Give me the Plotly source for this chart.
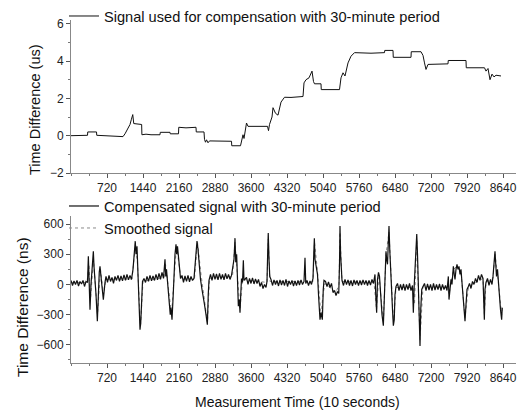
import plotly.graph_objects as go

# ---------------- data ----------------
tick_vals = [720, 1440, 2160, 2880, 3600, 4320, 5040, 5760, 6480, 7200, 7920, 8640]

top_x = [0, 150, 330, 335, 510, 515, 720, 1040, 1080, 1120, 1150, 1180, 1205, 1235, 1255, 1413, 1418,
         1500, 1600, 1780, 1785, 1980, 1985, 2150, 2155, 2300, 2500, 2505, 2660, 2670, 2690, 2710,
         2740, 2770, 3210, 3215, 3390, 3420, 3440, 3460, 3480, 3510, 3540, 3930, 3950, 3970, 4020,
         4040, 4090, 4140, 4200, 4270, 4400, 4640, 4660, 4700, 4760, 4820, 4850, 4870, 5000, 5005,
         5370, 5400, 5440, 5480, 5540, 5600, 5670, 6000, 6270, 6275, 6440, 6445, 6800, 6805, 7000,
         7040, 7070, 7100, 7140, 7540, 7545, 7900, 7905, 8270, 8300, 8340, 8380, 8420, 8460, 8500, 8600]
top_y = [0.0, 0.0, 0.02, 0.2, 0.2, 0.02, -0.02, -0.05, 0.1, 0.3, 0.45, 0.6, 0.85, 1.13, 0.65, 0.6, 0.05,
         0.08, 0.05, 0.05, 0.18, 0.18, 0.1, 0.1, 0.45, 0.42, 0.45, 0.2, 0.2, -0.2, -0.35, -0.22,
         -0.38, -0.28, -0.3, -0.54, -0.54, -0.2, 0.05, -0.15, 0.3, 0.68, 0.5, 0.5, 0.27, 0.6, 1.0,
         1.5, 1.2, 1.1, 1.8, 2.06, 2.05, 2.1, 2.83, 3.0, 3.1, 3.46, 2.9, 2.78, 2.78, 2.47,
         2.47, 3.1, 3.37, 3.2, 3.9, 4.26, 4.45, 4.42, 4.45, 4.57, 4.57, 4.2, 4.2, 4.5, 4.5,
         4.3, 3.9, 3.55, 3.82, 3.85, 4.03, 4.03, 3.64, 3.64, 3.46, 3.6, 3.0, 3.3, 3.15, 3.24, 3.2]

comp_x = [0, 30, 60, 90, 120, 150, 180, 210, 240, 270, 300, 330,
          347, 365, 380, 400, 420, 447, 460, 480, 500, 527, 545, 565, 580, 600, 620, 647, 665, 680,
          700, 730, 760, 790, 820, 850, 880, 910, 940, 970, 1000, 1030, 1060, 1090, 1120, 1150, 1180, 1210,
          1240, 1265, 1285, 1300, 1320, 1340, 1360, 1380, 1395, 1410, 1430, 1460,
          1490, 1520, 1550, 1580, 1610, 1640, 1670, 1700, 1730, 1760, 1790, 1820, 1850,
          1880, 1895, 1910, 1930, 1950, 1970, 1985, 2000, 2020, 2040, 2060, 2080, 2100, 2113, 2130, 2150, 2170, 2190,
          2220, 2250, 2280, 2310, 2340, 2370, 2400, 2430, 2460,
          2480, 2500, 2520, 2540, 2560, 2590, 2620, 2647, 2670, 2700, 2727, 2745, 2760,
          2790, 2820, 2850, 2880, 2910, 2940, 2970, 3000, 3030, 3060, 3090, 3120, 3150, 3180, 3210,
          3240, 3260, 3280, 3295, 3313, 3330, 3347, 3365, 3380, 3395, 3410, 3430, 3447, 3460, 3480,
          3510, 3540, 3570, 3600, 3630, 3660, 3690, 3720, 3750, 3780, 3810, 3840, 3870, 3900, 3920,
          3933, 3945, 3960, 3975,
          4000, 4030, 4060, 4090, 4120, 4150, 4180, 4210, 4240, 4270, 4300, 4330, 4360, 4390, 4420, 4450,
          4480, 4510, 4540, 4570, 4600, 4630, 4660, 4680, 4695, 4720, 4750, 4780, 4810, 4840,
          4855, 4867, 4880, 4900, 4913, 4930, 4950, 4965, 4980, 5000, 5027, 5045, 5060,
          5090, 5120, 5150, 5180, 5210, 5240, 5270, 5300, 5330, 5355,
          5370, 5380, 5392, 5405, 5420,
          5450, 5480, 5510, 5540, 5570, 5600, 5630, 5660, 5690, 5720, 5750, 5780, 5810, 5840, 5870, 5900,
          5930, 5960, 5990, 6020, 6050,
          6080, 6095, 6113, 6130, 6150, 6170, 6190, 6220, 6247, 6265, 6280, 6300, 6313, 6330, 6345, 6360,
          6375, 6390, 6410, 6430, 6447, 6465, 6480, 6500,
          6530, 6560, 6590, 6620, 6650, 6680, 6710, 6740, 6770, 6800, 6830,
          6847, 6865, 6880, 6900, 6915, 6930, 6950, 6965, 6980, 6995, 7015, 7040,
          7070, 7100, 7130, 7160, 7190, 7220, 7250, 7280, 7310, 7340, 7370, 7400, 7430, 7460, 7490, 7520,
          7547, 7560, 7580, 7600, 7620, 7647, 7665, 7680, 7700, 7720, 7740, 7760, 7780, 7800, 7815, 7840,
          7860, 7880, 7900, 7920, 7947,
          7970, 8000, 8030, 8060, 8090, 8120, 8150, 8180, 8210, 8240,
          8255, 8267, 8280, 8300, 8330, 8360, 8390, 8420, 8440, 8460, 8480, 8495, 8510, 8530, 8550, 8570,
          8590, 8613, 8625]
comp_y = [40, -10, 35, 0, 40, -15, 30, 5, 40, -20, 30, 20,
          280, 60, -250, 0, 150, 330, 180, 50, -100, -365, -50, 120, 180, 100, -20, -150, -30, 20,
          80, 20, 90, 30, 70, 10, 80, 40, 90, 30, 85, 35, 95, 40, 100, 45, 90, 50,
          150, 350, 430, 300, 380, 100, -200, -450, -380, -100, 30, 60,
          20, 80, 30, 90, 35, 85, 40, 100, 45, 110, 50, 120, 60,
          250, 80, 150, 20, -100, -180, -300, -230, -350, -150, 100, 300, 400, 300, 380, 250, 100, 60,
          90, 20, 85, 30, 90, 25, 80, 40, 60,
          200, 350, 430, 350, 200, 50, -50, -115, -200, -300, -400, -100, 40,
          100, 40, 110, 50, 105, 45, 110, 50, 100, 45, 110, 55, 100, 50, 90,
          200, 250, 460, 220, 300, 50, -215, -150, -280, -100, 60, 20, 240, 40, 50,
          70, 0, 60, 10, 65, 5, 55, 10, 50, -20, 20, -40, 0, -30, 30,
          300, 510, 250, 80,
          50, -10, 45, 0, 40, -15, 45, -5, 40, -10, 50, -20, 35, 0, 40, -15,
          35, -10, 40, -5, 45, 0, 30, 265, 10, 40, -10, 35, 0, 60,
          300, 460, 250, 200, 170, 100, -100, -250, -350, -280, -350, -50, 40,
          30, -20, 25, -30, 10, -80, -60, -110, -70, -90,
          200, 580, 300, 100, 40,
          -10, 50, 0, 45, -10, 40, -15, 45, 0, 40, -10, 40, -5, 45, 0, 40,
          -10, 40, -5, 50, 10,
          100, -100, -280, 50, 120, 80, -100, -300, -410, -100, 200, 330, 250, 200, 400, 580,
          350, 220, 0, -250, -410, -350, -100, -20,
          10, -60, 0, -55, 5, -60, 0, -50, 10, -60, -10,
          -280, 0, 200, 400, 500, 300, 0, -300, -610, -250, -50, -20,
          10, -60, 5, -55, 0, -60, 10, -55, 0, -50, 5, -60, 0, -50, -10, -60,
          80, -150, -50, 50, 0, 180, 100, 50, 150, 200, 150, 180, 100, 150, 50, -100,
          -250, -365, -200, -50, -20,
          10, -40, 30, 0, 60, 20, 90, 40, 100, 60,
          -100, -350, -50, 20, 60, -10, 50, 0, 80, 200, 330, 200, 80, 150, 0, -150,
          -250, -350, -230]

smooth_x = [0, 320, 360, 390, 450, 530, 590, 650, 700, 1220, 1290, 1330, 1390, 1440, 1860, 1890, 1940,
            2010, 2060, 2110, 2160, 2200, 2470, 2530, 2600, 2730, 2770, 3230, 3280, 3330, 3380, 3430,
            3920, 3945, 3980, 4840, 4870, 4920, 5000, 5040, 5080, 5300, 5360, 5380, 5420, 6060, 6110,
            6160, 6247, 6300, 6360, 6450, 6500, 6840, 6870, 6915, 6980, 7040, 7530, 7560, 7650, 7720,
            7800, 7880, 7950, 8240, 8267, 8300, 8440, 8480, 8530, 8613, 8625]
smooth_y = [20, 20, 200, -150, 250, -300, 150, -100, 50, 55, 400, 200, -420, 30, 70, 200, 0,
            -300, 50, 380, 200, 50, 60, 420, 100, -380, 60, 80, 420, 100, -250, 50,
            20, 450, 30, 30, 420, 180, -300, -100, 10, -80, 0, 520, 30, 20, -250,
            100, -380, 300, 520, -380, -30, -30, -200, 450, -550, -20, -30, -100, 150, 180,
            120, -330, -20, 60, -300, 20, 60, 300, 100, -300, -220]

top_ticks = [-2, 0, 2, 4, 6]
bottom_ticks = [-600, -300, 0, 300, 600]

# ---------------- figure ----------------
FONT = "Arial, Liberation Sans, sans-serif"
W, H = 518, 413

fig = go.Figure()
fig.add_trace(go.Scatter(x=top_x, y=top_y, mode="lines", xaxis="x", yaxis="y",
                         line=dict(color="#111111", width=1), showlegend=True,
                         name="Signal used for compensation with 30-minute period", legend="legend"))
fig.add_trace(go.Scatter(x=smooth_x, y=smooth_y, mode="lines", xaxis="x2", yaxis="y2",
                         line=dict(color="#8a8a8a", width=1, dash="dot"), showlegend=True,
                         name="Smoothed signal", legend="legend2", legendrank=2))
fig.add_trace(go.Scatter(x=comp_x, y=comp_y, mode="lines", xaxis="x2", yaxis="y2",
                         line=dict(color="#111111", width=1.2), showlegend=True,
                         name="Compensated signal with 30-minute period", legend="legend2", legendrank=1))

xdom = [71 / W, 516 / W]
axis_common = dict(showgrid=False, zeroline=False, showline=True, linecolor="#888888", linewidth=1,
                   ticks="outside", ticklen=4, tickcolor="#555555", tickfont=dict(size=12, color="#222222"),
                   automargin=False)

fig.update_layout(
    width=W, height=H,
    margin=dict(l=0, r=0, t=0, b=0, autoexpand=False),
    showlegend=True,
    paper_bgcolor="white", plot_bgcolor="white",
    font=dict(family=FONT, color="#111111"),
    xaxis=dict(domain=xdom, range=[0, 8900], anchor="y", tickvals=tick_vals,
               minor=dict(ticks="outside", ticklen=2, dtick=360, tick0=0, tickcolor="#777777"),
               **axis_common),
    yaxis=dict(domain=[(H - 173) / H, (H - 20) / H], range=[-2, 6.2], anchor="x", tickvals=top_ticks,
               minor=dict(ticks="outside", ticklen=2, dtick=1, tick0=0, tickcolor="#777777"),
               **axis_common),
    xaxis2=dict(domain=xdom, range=[0, 8900], anchor="y2", tickvals=tick_vals,
                minor=dict(ticks="outside", ticklen=2, dtick=360, tick0=0, tickcolor="#777777"),
                **axis_common),
    yaxis2=dict(domain=[(H - 363) / H, (H - 216) / H], range=[-780, 680], anchor="x2", tickvals=bottom_ticks,
                minor=dict(ticks="outside", ticklen=2, dtick=150, tick0=0, tickcolor="#777777"),
                **axis_common),
    legend=dict(visible=True, x=64 / W, y=1.0, xanchor="left", yanchor="top", bgcolor="rgba(0,0,0,0)",
                font=dict(size=14.6, color="#111111"), borderwidth=0),
    legend2=dict(visible=True, x=64 / W, y=1 - 190 / H, xanchor="left", yanchor="top", bgcolor="rgba(0,0,0,0)",
                 font=dict(size=14.6, color="#111111"), borderwidth=0, tracegroupgap=0),
    annotations=[
        dict(text="Time Difference (us)", x=35 / W, y=(H - 110) / H, xref="paper", yref="paper",
             xanchor="center", yanchor="middle",
             showarrow=False, textangle=-90, font=dict(size=14.5, color="#111111")),
        dict(text="Time Difference (ns)", x=22 / W, y=(H - 307) / H, xref="paper", yref="paper",
             xanchor="center", yanchor="middle",
             showarrow=False, textangle=-90, font=dict(size=15.5, color="#111111")),
        dict(text="Measurement Time (10 seconds)", x=297 / W, y=(H - 402) / H, xref="paper", yref="paper",
             xanchor="center", yanchor="middle",
             showarrow=False, font=dict(size=14, color="#111111")),
    ],
)

fig.write_html("out.html", config={"displayModeBar": False},
               post_script="document.body.style.margin='0px';")
